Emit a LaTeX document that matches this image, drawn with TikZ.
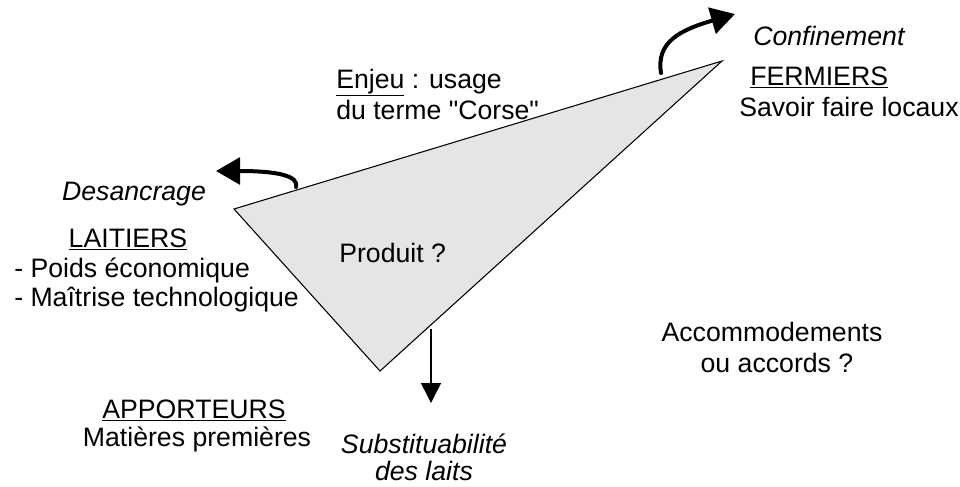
\documentclass[tikz,border=0pt]{standalone}
\usepackage{fontspec}
\setmainfont{Liberation Sans}
\newfontfamily\qfont{Liberation Sans}
\usetikzlibrary{arrows.meta}
\begin{document}
\begin{tikzpicture}[x=0.75pt,y=-0.75pt,
  txt/.style={inner sep=0pt,font=\fontsize{20}{24}\selectfont},
  tri/.style={draw=black,line width=0.8pt,fill=black!10,line join=miter},
  bigarr/.style={line width=3pt,line cap=round,-{Triangle[length=18pt,width=20pt]}},
  thinarr/.style={line width=1.1pt,-{Triangle[length=15pt,width=15pt]}}]
\useasboundingbox (0,0) rectangle (960,486);
% triangle
\coordinate (L) at (234,209);
\coordinate (T) at (722,61);
\coordinate (B) at (380,371);
\draw[tri] (L) -- (T) -- (B) -- cycle;
% arrows
\coordinate (cs) at (661,73);
\coordinate (ce) at (735,14);
\draw[bigarr] (cs) .. controls (656,42) and (680,30) .. (ce);
\coordinate (ds) at (296,187);
\coordinate (de) at (216,171);
\draw[bigarr] (ds) .. controls (299,176) and (278,171) .. (de);
\coordinate (ss) at (431,329);
\coordinate (se) at (431,403);
\draw[thinarr] (ss) -- (se);
% texts
\node[txt,anchor=base west,font=\fontsize{20}{24}\selectfont\itshape] (conf) at (753,45) {Confinement};
\node[txt,anchor=base west] (ferm) at (750,85) {\underline{FERMIERS}};
\node[txt,anchor=base west] (savoir) at (739,116) {Savoir faire locaux};
\node[txt,anchor=base west] (enj1) at (336,88) {\underline{Enjeu} : usage};
\node[txt,anchor=base west] (enj2) at (336,119) {\qfont du terme "Corse"};
\node[txt,anchor=base,font=\fontsize{20}{24}\selectfont\itshape] (desan) at (134,200) {Desancrage};
\node[txt,anchor=base] (lait) at (128,247) {\underline{LAITIERS}};
\node[txt,anchor=base west] (poids) at (14,277) {- Poids économique};
\node[txt,anchor=base west] (maitr) at (14,306) {- Maîtrise technologique};
\node[txt,anchor=base west] (prod) at (339,262) {Produit ?};
\node[txt,anchor=base] (acc1) at (772,341) {Accommodements};
\node[txt,anchor=base] (acc2) at (777,372) {ou accords ?};
\node[txt,anchor=base] (appo) at (194,418) {\underline{APPORTEURS}};
\node[txt,anchor=base] (mat) at (197,446) {Matières premières};
\node[txt,anchor=base,font=\fontsize{20}{24}\selectfont\itshape] (sub1) at (424,453) {Substituabilité};
\node[txt,anchor=base,font=\fontsize{20}{24}\selectfont\itshape] (sub2) at (424,480) {des laits};
\end{tikzpicture}
\end{document}
